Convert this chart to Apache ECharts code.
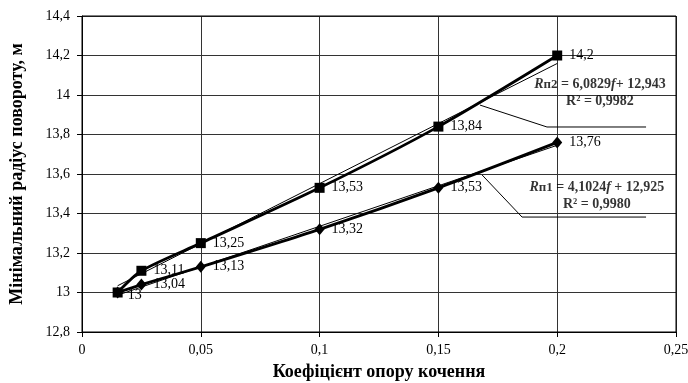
<!DOCTYPE html>
<html><head><meta charset="utf-8">
<script src="https://cdn.jsdelivr.net/npm/echarts@6/dist/echarts.min.js"></script>
<style>html,body{margin:0;padding:0;background:#fff}#c{width:688px;height:383px}</style>
</head><body><div id="c"></div>
<script>
const fValues = [0.015, 0.025, 0.05, 0.1, 0.15, 0.2];
const rn2Values = [13.0, 13.11, 13.25, 13.53, 13.84, 14.2];
const rn1Values = [13.0, 13.04, 13.13, 13.32, 13.53, 13.76];
const trend2 = {a: 6.0829, b: 12.943, r2: '0,9982'};
const trend1 = {a: 4.1024, b: 12.925, r2: '0,9980'};
const leader2 = [[0.1675, 13.949], [0.1957, 13.838], [0.2374, 13.838]];
const leader1 = [[0.1684, 13.595], [0.1852, 13.382], [0.2374, 13.382]];
const eq2Pos = [0.218, 14.01];
const eq1Pos = [0.2167, 13.489];

const FONT = '"Liberation Serif", "Times New Roman", serif';
const fmt = v => String(v).replace('.', ',');
const pts = (xs, ys) => xs.map((x, i) => [x, ys[i]]);
const trendLine = t => [[fValues[0], t.a * fValues[0] + t.b], [fValues[fValues.length-1], t.a * fValues[fValues.length-1] + t.b]];

const chart = echarts.init(document.getElementById('c'));
const lbl = {show: true, position: 'right', distance: 7, color: '#000', fontFamily: FONT, fontSize: 14,
  formatter: p => fmt(p.value[1])};
const eqRich = {
  r: {fontFamily: FONT, fontSize: 14, fontWeight: 'bold', fontStyle: 'italic', color: '#000'},
  s: {fontFamily: FONT, fontSize: 13, fontWeight: 'bold', color: '#000'},
  b: {fontFamily: FONT, fontSize: 14, fontWeight: 'bold', color: '#000', lineHeight: 17},
  i: {fontFamily: FONT, fontSize: 14, fontWeight: 'bold', fontStyle: 'italic', color: '#000'}
};
function eqSeries(pos, name, t, sep) {
  return {type: 'scatter', data: [pos], symbolSize: 0, silent: true, z: 10,
    label: {show: true, position: 'inside', align: 'center', lineHeight: 17,
      formatter: '{r|R}{s|' + name + '}{b| = ' + fmt(t.a) + '}{i|f}{b|' + sep + '+ ' + fmt(t.b) + '}\n{b|R² = ' + t.r2 + '}',
      rich: eqRich}};
}

chart.setOption({
  animation: false,
  grid: {left: 82, right: 12, top: 16, bottom: 51, containLabel: false, outerBoundsMode: 'none'},
  xAxis: {type: 'value', min: 0, max: 0.25, interval: 0.05,
    name: 'Коефіцієнт опору кочення', nameLocation: 'middle', nameGap: 31,
    nameTextStyle: {fontFamily: FONT, fontSize: 18, fontWeight: 'bold', color: '#000'},
    axisLine: {lineStyle: {color: '#000', width: 1}},
    axisTick: {show: true, length: 5, lineStyle: {color: '#000'}},
    axisLabel: {fontFamily: FONT, fontSize: 14, color: '#000', margin: 11, formatter: v => fmt(+v.toFixed(2))},
    splitLine: {show: true, lineStyle: {color: '#333', width: 1}}},
  yAxis: {type: 'value', min: 12.8, max: 14.4, interval: 0.2,
    name: 'Мінімальний радіус повороту, м', nameLocation: 'middle', nameGap: 56,
    nameTextStyle: {fontFamily: FONT, fontSize: 18, fontWeight: 'bold', color: '#000'},
    axisLine: {show: true, lineStyle: {color: '#000', width: 1}},
    axisTick: {show: true, length: 5, lineStyle: {color: '#000'}},
    axisLabel: {fontFamily: FONT, fontSize: 14, color: '#000', margin: 12, formatter: v => fmt(+v.toFixed(1))},
    splitLine: {show: true, lineStyle: {color: '#333', width: 1}}},
  graphic: [{type: 'rect', shape: {x: 82, y: 16, width: 594, height: 316}, style: {fill: 'none', stroke: '#000', lineWidth: 1}, silent: true, z: 5}],
  series: [
    {type: 'line', data: trendLine(trend2), symbol: 'none', lineStyle: {color: '#000', width: 1}, silent: true, z: 3},
    {type: 'line', data: trendLine(trend1), symbol: 'none', lineStyle: {color: '#000', width: 1}, silent: true, z: 3},
    {type: 'line', data: pts(fValues, rn2Values).map((d, i) => i === 0 ? {value: d, label: {position: [15, 1]}} : d),
      smooth: 0.25, symbol: 'rect', symbolSize: 10,
      itemStyle: {color: '#000'}, lineStyle: {color: '#000', width: 2.8}, z: 4,
      label: lbl, emphasis: {disabled: true}},
    {type: 'line', data: pts(fValues, rn1Values).map((d, i) => i === 0 ? {value: d, label: {show: false}} : d),
      smooth: 0.25, symbol: 'diamond', symbolSize: [10, 12],
      itemStyle: {color: '#000'}, lineStyle: {color: '#000', width: 2.8}, z: 4,
      label: lbl, emphasis: {disabled: true}},
    {type: 'line', data: leader2, symbol: 'none', lineStyle: {color: '#000', width: 1}, silent: true, z: 3},
    {type: 'line', data: leader1, symbol: 'none', lineStyle: {color: '#000', width: 1}, silent: true, z: 3},
    eqSeries(eq2Pos, 'п2', trend2, ''),
    eqSeries(eq1Pos, 'п1', trend1, ' ')
  ]
});
</script></body></html>
